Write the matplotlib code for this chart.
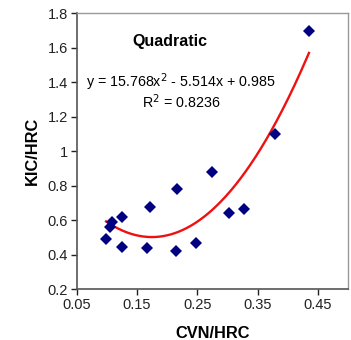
import numpy as np
import matplotlib.pyplot as plt

plt.rcParams['font.family'] = ['Liberation Sans', 'DejaVu Sans']

# measured points (CVN/HRC vs KIC/HRC)
cvn_hrc = [0.435, 0.378, 0.274, 0.217, 0.172, 0.125, 0.109, 0.105, 0.099,
           0.125, 0.166, 0.215, 0.248, 0.302, 0.328]
kic_hrc = [1.70, 1.10, 0.88, 0.78, 0.68, 0.62, 0.59, 0.56, 0.49,
           0.445, 0.44, 0.425, 0.47, 0.64, 0.665]

# quadratic trendline from the chart label
fit_coef = [15.768, -5.514, 0.985]
r_squared = 0.8236

x_ticks = [0.05, 0.15, 0.25, 0.35, 0.45]
y_ticks = [0.2, 0.4, 0.6, 0.8, 1.0, 1.2, 1.4, 1.6, 1.8]
y_ticklabels = ['0.2', '0.4', '0.6', '0.8', '1', '1.2', '1.4', '1.6', '1.8']


def plot_quadratic(plot_name):
    fig = plt.figure(figsize=(3.51, 3.40), dpi=100)
    ax = fig.add_axes([0.218, 0.149, 0.774, 0.812])

    xs = np.linspace(min(cvn_hrc), max(cvn_hrc), 200)
    ax.plot(xs, np.polyval(fit_coef, xs), color='#ee1111', lw=1.7, zorder=2)
    ax.plot(cvn_hrc, kic_hrc, 'D', color='#000080', markersize=6,
            markeredgewidth=0, zorder=3)

    ax.set_xlim(0.05, 0.5)
    ax.set_ylim(0.2, 1.8)
    ax.set_xticks(x_ticks)
    ax.set_xticklabels(['0.05', '0.15', '0.25', '0.35', '0.45'])
    ax.set_yticks(y_ticks)
    ax.set_yticklabels(y_ticklabels)
    ax.tick_params(direction='out', length=4, width=1, labelsize=10.5,
                   colors='#222222', pad=2)

    for s in ['left', 'bottom']:
        ax.spines[s].set_color('#555555')
        ax.spines[s].set_linewidth(1.2)
    for s in ['top', 'right']:
        ax.spines[s].set_color('#999999')
        ax.spines[s].set_linewidth(1.0)

    ax.set_xlabel('CVN/HRC', fontsize=11.8, fontweight='bold', labelpad=10)
    ax.set_ylabel('KIC/HRC', fontsize=11.8, fontweight='bold', labelpad=6)

    ax.text(0.205, 1.635, 'Quadratic', fontsize=11.5, fontweight='bold',
            ha='center', va='center')
    ax.text(0.222, 1.40, 'y = 15.768x$^2$ - 5.514x + 0.985', fontsize=10.3,
            ha='center', va='center')
    ax.text(0.224, 1.285, 'R$^2$ = %.4f' % r_squared, fontsize=10.3,
            ha='center', va='center')

    fig.savefig(plot_name, dpi=100)


if __name__ == "__main__":
    plot_quadratic('out.png')
